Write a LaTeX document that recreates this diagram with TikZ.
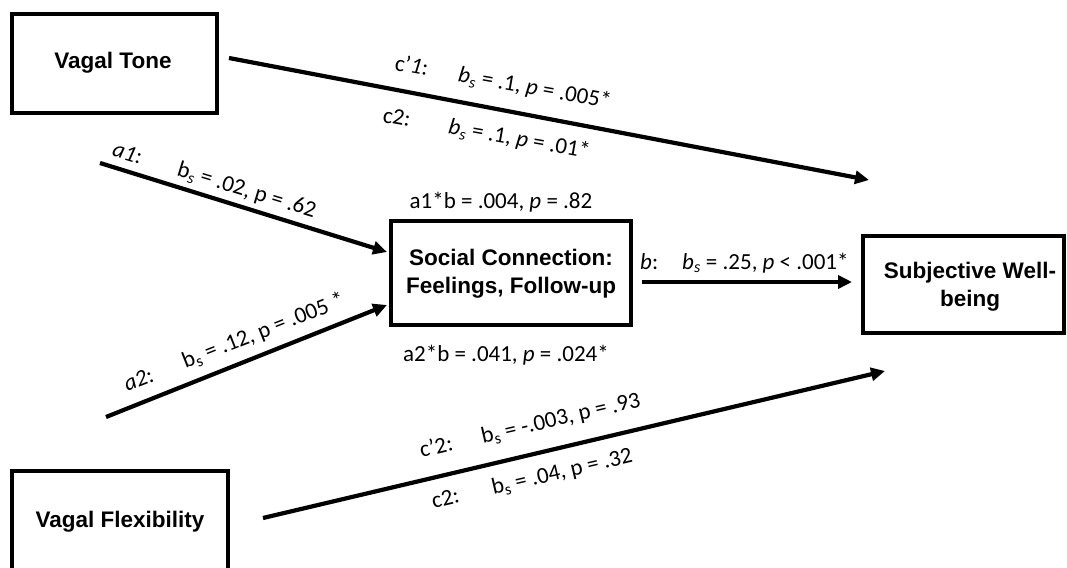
\documentclass[tikz,border=0pt]{standalone}
\usepackage{fontspec}
\setmainfont{Carlito}
\newfontfamily\boxfont{Liberation Sans}
\usetikzlibrary{arrows.meta}

% coefficient symbols: italic b and s, upright b with italic s, upright b and s
\newcommand{\bsi}{\textit{b}\textsubscript{\textit{s}}}
\newcommand{\bsm}{b\textsubscript{\textit{s}}}
\newcommand{\bsu}{b\textsubscript{s}}

\tikzset{
  varbox/.style={draw=black, line width=4pt, fill=white},
  boxtext/.style={font=\boxfont\bfseries\fontsize{22.5}{28}\selectfont, align=center, inner sep=0pt},
  path/.style={line width=4.2pt, -{Triangle[length=14pt,width=13pt]}},
  lbl/.style={font=\fontsize{23}{27}\selectfont, inner sep=0pt, anchor=center},
  lblw/.style={lbl, anchor=west}
}

\begin{document}
\begin{tikzpicture}[x=1pt,y=-1pt]
  \useasboundingbox (0,0) rectangle (1067,567);
  \clip (0,0) rectangle (1067,567);
  \fill[white] (0,0) rectangle (1067,567);

  % variable boxes
  \draw[varbox] (12,14) rectangle (217,113);
  \node[boxtext] (tone) at (113,63) {Vagal Tone};
  \draw[varbox] (12,471) rectangle (228,575);
  \node[boxtext] (flex) at (120,522) {Vagal Flexibility};
  \draw[varbox] (391,221) rectangle (631,325);
  \node[boxtext] (social) at (511,274) {Social Connection:\\Feelings, Follow-up};
  \draw[varbox] (863,236) rectangle (1064,333);
  \node[boxtext] (swb) at (970,287) {Subjective Well-\\being};

  % connector end points
  \coordinate (toneOut) at (229,58);
  \coordinate (toneIn) at (869,180);
  \coordinate (a1Out) at (100,163);
  \coordinate (a1In) at (387,252);
  \coordinate (a2Out) at (106,417);
  \coordinate (a2In) at (387,305);
  \coordinate (socOut) at (642,282);
  \coordinate (socIn) at (852,282);
  \coordinate (flexOut) at (263,518);
  \coordinate (flexIn) at (885,371);

  % paths
  \draw[path] (toneOut) -- (toneIn);
  \draw[path] (a1Out) -- (a1In);
  \draw[path] (a2Out) -- (a2In);
  \draw[path] (socOut) -- (socIn);
  \draw[path] (flexOut) -- (flexIn);

  % direct effect of vagal tone
  \node[lblw, rotate=-10] (lc1) at (395,64) {c’\textit{1}:\hspace{31pt}\bsi{} = .1, \textit{p} = .005*};
  \node[lblw, rotate=-10] (lc2) at (383,116) {c2:\hspace{39pt}\bsi{} = .1, \textit{p} = .01*};

  % a paths
  \node[lblw, rotate=-17] (la1) at (113,150) {\textit{a1}:\hspace{38pt}\bsm{} = .02, p = .62};
  \node[lblw, rotate=21.5] (la2) at (125,386) {\textit{a2}:\hspace{33pt}\bsu{} = .12, p = .005 *};

  % indirect effects
  \node[lbl] (ind1) at (501,202) {a1*b = .004, \textit{p} = .82};
  \node[lbl] (ind2) at (506,355) {a2*b = .041, \textit{p} = .024*};

  % b path
  \node[lblw] (lb) at (640,263) {\textit{b}:\hspace{24pt}\bsi{} = .25, \textit{p} < .001*};

  % direct effect of vagal flexibility
  \node[lblw, rotate=13.2] (lf1) at (420,452) {c’2:\hspace{30pt}\bsu{} = -.003, p = .93};
  \node[lblw, rotate=13.2] (lf2) at (432,503) {c2:\hspace{34pt}\bsu{} = .04, p = .32};
\end{tikzpicture}
\end{document}
